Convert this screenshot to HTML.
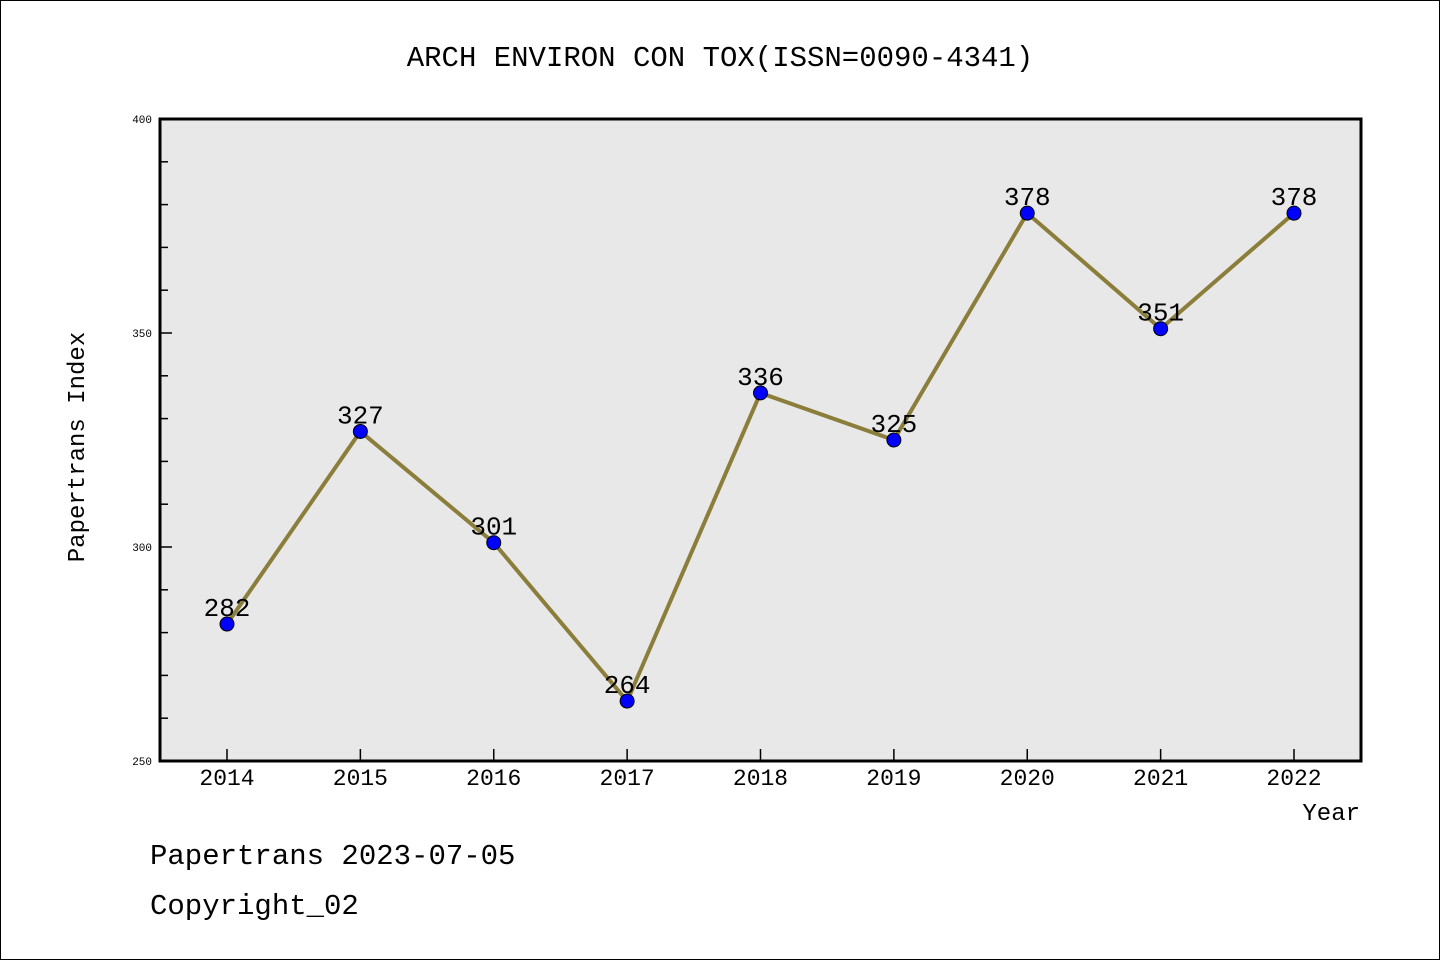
<!DOCTYPE html>
<html><head><meta charset="utf-8"><style>
html,body{margin:0;padding:0;background:#fff}
svg{display:block}
text{font-family:"Liberation Mono","WenQuanYi Zen Hei",monospace;fill:#000}
</style></head><body>
<svg width="1440" height="960" viewBox="0 0 1440 960">
<rect x="0.5" y="0.5" width="1439" height="959" fill="#fff" stroke="#000"/>
<text x="720" y="66" text-anchor="middle" font-size="29">ARCH ENVIRON CON TOX(ISSN=0090-4341)</text>
<rect x="160" y="119" width="1201" height="642" fill="#e8e8e8" stroke="#000" stroke-width="3"/>
<g id="yaxis"></g>
<g id="xaxis"></g>
<g id="series"></g>
<text transform="translate(84,447) rotate(-90)" text-anchor="middle" font-size="24">Papertrans Index</text>
<text x="1360" y="820" text-anchor="end" font-size="24">Year</text>
<text x="150" y="864" font-size="29">Papertrans 2023-07-05</text>
<text x="150" y="914" font-size="29">Copyright_02</text>
</svg>
<script>
const years = ["2014","2015","2016","2017","2018","2019","2020","2021","2022"];
const values = [282,327,301,264,336,325,378,351,378];
const yTicks = [250,300,350,400];
const NS="http://www.w3.org/2000/svg";
const x0=227,x1=1294,plotTop=119,plotBot=761,yMin=250,yMax=400;
function xs(i){return x0+(x1-x0)*i/(years.length-1);}
function ys(v){return plotBot-(v-yMin)/(yMax-yMin)*(plotBot-plotTop);}
function mk(tag,attrs,parent){const e=document.createElementNS(NS,tag);for(const k in attrs)e.setAttribute(k,attrs[k]);parent.appendChild(e);return e;}
const ya=document.getElementById('yaxis'),xa=document.getElementById('xaxis'),se=document.getElementById('series');
for(let v=yMin;v<=yMax;v+=10){
  const major=yTicks.includes(v);
  const t=mk('line',{x1:160,x2:160+(major?12:8),y1:ys(v),y2:ys(v),stroke:'#000','stroke-width':1.5},ya);
  
  
}
yTicks.forEach(v=>{
  const t=mk('text',{x:152,y:ys(v)+4,'text-anchor':'end','font-size':11},ya);
  t.textContent=v;
  
  
});
years.forEach((y,i)=>{
  const l=mk('line',{x1:xs(i),x2:xs(i),y1:761,y2:749,stroke:'#000','stroke-width':1.5},xa);
  
  
  const t=mk('text',{x:xs(i),y:785,'text-anchor':'middle','font-size':23},xa);
  t.textContent=y;
  
  
});
const pts=values.map((v,i)=>xs(i)+','+ys(v)).join(' ');
const pl=mk('polyline',{points:pts,fill:'none',stroke:'#8b7d3a','stroke-width':4,'stroke-linejoin':'round'},se);


values.forEach((v,i)=>{
  const c=mk('circle',{cx:xs(i),cy:ys(v),r:7,fill:'#0000ff',stroke:'#000','stroke-width':1},se);
  
  
  const t=mk('text',{x:xs(i),y:ys(v)-8,'text-anchor':'middle','font-size':26},se);
  t.textContent=v;
  
  
});
</script>
</body></html>
